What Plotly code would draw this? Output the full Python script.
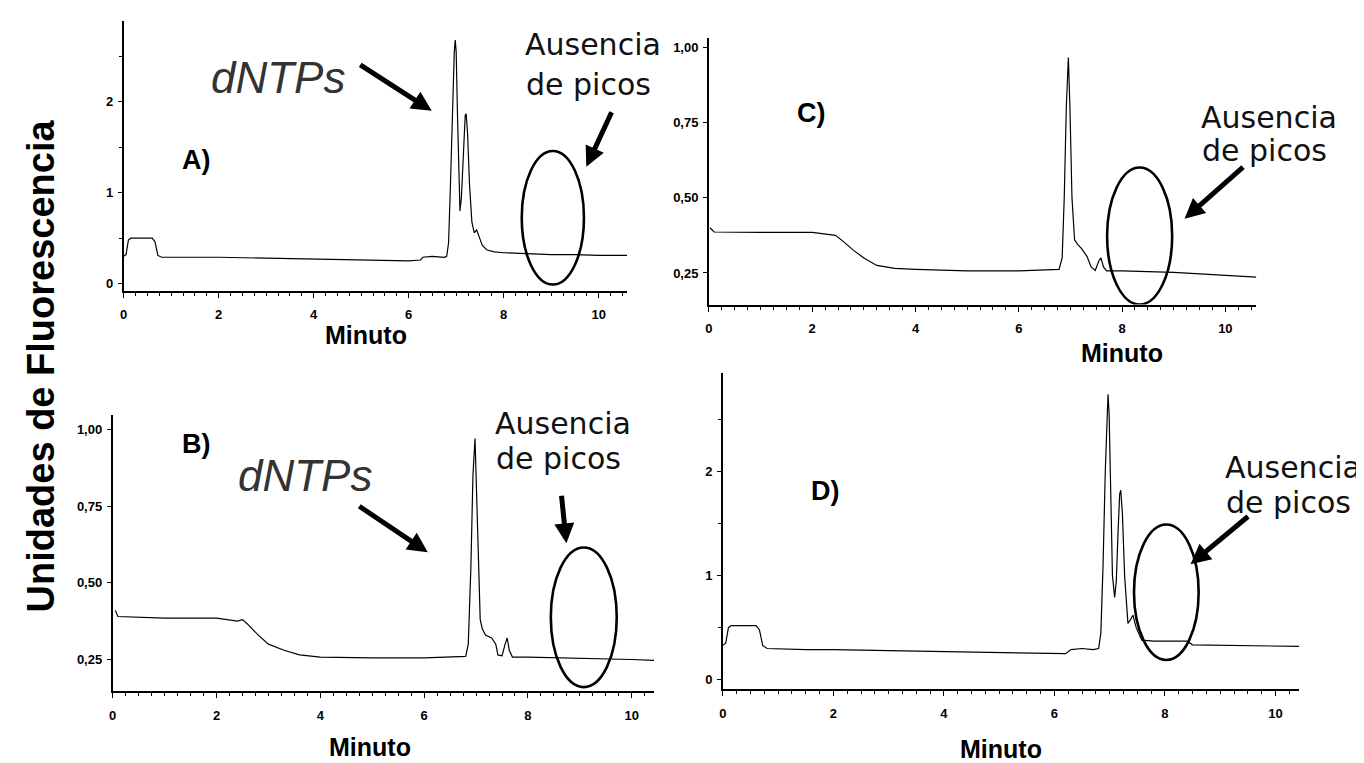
import plotly.graph_objects as go

# ---------------- DATA ----------------
# Panel A
A_x = [0, 0.05, 0.1, 0.15, 0.6, 0.66, 0.72, 0.8, 1.5, 2, 3, 4, 5, 6, 6.25, 6.3, 6.5, 6.75, 6.8,
       6.84, 6.88, 6.92, 6.96, 6.98, 7.0, 7.03, 7.06, 7.08, 7.11, 7.15, 7.19, 7.21, 7.24, 7.28,
       7.33, 7.38, 7.43, 7.48, 7.55, 7.65, 7.8, 8.0, 8.5, 9.0, 9.5, 10.0, 10.6]
A_y = [0.30, 0.32, 0.48, 0.50, 0.50, 0.46, 0.31, 0.29, 0.29, 0.29, 0.28, 0.27, 0.26, 0.25, 0.26, 0.29,
       0.30, 0.29, 0.30, 0.45, 1.1, 1.9, 2.55, 2.68, 2.55, 1.8, 1.0, 0.80, 0.95, 1.5, 1.85, 1.87,
       1.65, 1.1, 0.68, 0.56, 0.59, 0.52, 0.42, 0.37, 0.35, 0.34, 0.33, 0.32, 0.32, 0.31, 0.31]

# Panel B
B_x = [0.05, 0.1, 1, 2, 2.4, 2.5, 2.6, 2.8, 3.0, 3.3, 3.6, 4, 5, 6, 6.8, 6.85, 6.9, 6.94, 6.98,
       7.01, 7.04, 7.08, 7.12, 7.18, 7.3, 7.38, 7.42, 7.5, 7.56, 7.6, 7.64, 7.7, 8, 9, 10, 10.43]
B_y = [0.41, 0.39, 0.385, 0.385, 0.375, 0.38, 0.365, 0.33, 0.30, 0.28, 0.265, 0.258, 0.255, 0.255,
       0.26, 0.30, 0.55, 0.85, 0.97, 0.80, 0.55, 0.38, 0.35, 0.33, 0.32, 0.30, 0.265, 0.262, 0.30,
       0.32, 0.28, 0.258, 0.258, 0.255, 0.25, 0.247]

# Panel C
C_x = [0.02, 0.1, 1, 2, 2.3, 2.45, 2.6, 2.8, 3.0, 3.25, 3.6, 4, 5, 6, 6.78, 6.84, 6.88, 6.92, 6.96,
       6.99, 7.03, 7.08, 7.14, 7.22, 7.32, 7.4, 7.48, 7.55, 7.59, 7.64, 7.7, 8, 9, 10, 10.6]
C_y = [0.40, 0.386, 0.385, 0.385, 0.378, 0.375, 0.355, 0.325, 0.30, 0.275, 0.265, 0.262, 0.257,
       0.257, 0.262, 0.30, 0.50, 0.80, 0.965, 0.80, 0.50, 0.36, 0.345, 0.33, 0.305, 0.27, 0.258,
       0.29, 0.30, 0.27, 0.257, 0.257, 0.252, 0.242, 0.236]

# Panel D
D_x = [0, 0.05, 0.1, 0.15, 0.6, 0.66, 0.72, 0.8, 1.5, 2, 3, 4, 5, 6, 6.2, 6.3, 6.5, 6.7, 6.8,
       6.84, 6.88, 6.92, 6.95, 6.97, 6.99, 7.02, 7.05, 7.09, 7.12, 7.15, 7.18, 7.2, 7.23, 7.27,
       7.33, 7.38, 7.42, 7.48, 7.58, 7.8, 8.4, 8.5, 9.0, 10.0, 10.43]
D_y = [0.33, 0.35, 0.50, 0.52, 0.52, 0.48, 0.33, 0.30, 0.29, 0.29, 0.28, 0.27, 0.26, 0.25, 0.25,
       0.29, 0.30, 0.29, 0.30, 0.45, 1.1, 2.0, 2.55, 2.74, 2.55, 1.8, 1.0, 0.79, 0.95, 1.4, 1.78,
       1.82, 1.6, 1.0, 0.54, 0.58, 0.62, 0.5, 0.38, 0.37, 0.37, 0.335, 0.33, 0.32, 0.32]

# Tick labels
x_tickvals = [0, 2, 4, 6, 8, 10]
x_ticktext = ["0", "2", "4", "6", "8", "10"]
big_tickvals = [0, 1, 2]
big_ticktext = ["0", "1", "2"]
small_tickvals = [0.25, 0.50, 0.75, 1.00]
small_ticktext = ["0,25", "0,50", "0,75", "1,00"]

# "Ausencia de picos" regions (ellipses) [x0, x1, y0, y1]
ellipse_A = [8.38, 9.69, -0.01, 1.46]
ellipse_B = [8.44, 9.71, 0.16, 0.615]
ellipse_C = [7.71, 8.97, 0.145, 0.60]
ellipse_D = [7.44, 8.61, 0.19, 1.49]

# Text
panel_labels = ["A)", "B)", "C)", "D)"]
x_title = "Minuto"
y_title = "Unidades de Fluorescencia"
peak_label = "dNTPs"
absence_line1 = "Ausencia"
absence_line2 = "de picos"

# ---------------- LAYOUT ----------------
W, H = 1364, 763


def px(p):
    return p / W


def py(p):
    return 1 - p / H


fig = go.Figure()

panels = [
    # name, xdata, ydata, xaxis, yaxis, plot px box (l, r, t, b), xrange, yrange, yticks
    ("A", A_x, A_y, "x", "y", (112, 617, 13, 283), [0, 10.6], [-0.077, 2.89], "big"),
    ("B", B_x, B_y, "x2", "y2", (101, 644, 408, 684), [0, 10.43], [0.147, 1.045], "small"),
    ("C", C_x, C_y, "x3", "y3", (699, 1248, 30, 297), [0, 10.6], [0.145, 1.03], "small"),
    ("D", D_x, D_y, "x4", "y4", (713, 1291, 365, 682), [0, 10.43], [-0.09, 2.95], "big"),
]

tickfont = dict(family="Liberation Sans Narrow, Liberation Sans, Arial", size=13,
                color="black", weight="bold")

for i, (name, xd, yd, xa, ya, box, xr, yr, yk) in enumerate(panels):
    fig.add_trace(go.Scatter(x=xd, y=yd, mode="lines", xaxis=xa, yaxis=ya,
                             line=dict(color="black", width=1.2), showlegend=False,
                             hoverinfo="skip"))
    l, r, t, b = box
    n = "" if i == 0 else str(i + 1)
    xaxis = dict(domain=[px(l), px(r)], range=xr, anchor=ya, showline=True, linecolor="black",
                 linewidth=1.8, ticks="outside", ticklen=5, tickwidth=1.4, tickcolor="black",
                 tickvals=x_tickvals, ticktext=x_ticktext, tickfont=tickfont,
                 ticklabelstandoff=6, showgrid=False, zeroline=False,
                 minor=dict(ticks="outside", ticklen=3, dtick=0.25, tickcolor="black",
                            tickwidth=1, showgrid=False))
    if yk == "big":
        tv, tt = big_tickvals, big_ticktext
        minor = dict(ticks="outside", ticklen=3, dtick=0.5, tickcolor="black", showgrid=False)
    else:
        tv, tt = small_tickvals, small_ticktext
        minor = None
    yaxis = dict(domain=[py(b), py(t)], range=yr, anchor=xa, showline=True, linecolor="black",
                 linewidth=1.8, ticks="outside", ticklen=4, tickwidth=1.2, tickcolor="black",
                 tickvals=tv, ticktext=tt, tickfont=tickfont, ticklabelstandoff=2,
                 showgrid=False, zeroline=False)
    if minor:
        yaxis["minor"] = minor
    fig.update_layout(**{"xaxis" + n: xaxis, "yaxis" + n: yaxis})

# ellipses
for (x0, x1, y0, y1), xa, ya in [(ellipse_A, "x", "y"), (ellipse_B, "x2", "y2"),
                                 (ellipse_C, "x3", "y3"), (ellipse_D, "x4", "y4")]:
    fig.add_shape(type="circle", xref=xa, yref=ya, x0=x0, x1=x1, y0=y0, y1=y1,
                  line=dict(color="black", width=2.6))

ann = []
bold = dict(family="Liberation Sans, Arial", color="black", weight="bold")
sans = dict(family="DejaVu Sans", color="#111")
ital = dict(family="Liberation Sans, Arial", size=44, color="#333", style="italic")


def text(t, x, y, font, xanchor="left", angle=0):
    ann.append(dict(text=t, x=px(x), y=py(y), xref="paper", yref="paper", showarrow=False,
                    xanchor=xanchor, yanchor="middle", font=font, textangle=angle))


def arrow(tail, head):
    ann.append(dict(text="", x=px(head[0]), y=py(head[1]), xref="paper", yref="paper",
                    showarrow=True, ax=tail[0] - head[0], ay=tail[1] - head[1],
                    arrowhead=2, arrowsize=0.8, arrowwidth=5, arrowcolor="black", standoff=0))


# panel letters
for lab, (x, y) in zip(panel_labels, [(185, 152), (185, 437), (802, 105), (816, 484)]):
    text(lab, x, y, dict(bold, size=27), xanchor="center")

# axis titles
for (x, y) in [(355, 327), (359, 740), (1113, 345), (992, 742)]:
    text(x_title, x, y, dict(bold, size=25), xanchor="center")
text(y_title, 29, 358, dict(bold, size=38), xanchor="center", angle=-90)

# dNTPs
text(peak_label, 198, 70, ital)
text(peak_label, 225, 468, ital)
arrow((348, 56), (421, 103))
arrow((347, 498), (417, 545))

# Ausencia de picos
for (x, y1, y2) in [(513, 37, 77), (482, 416, 451), (1190, 110, 143), (1215, 460, 495)]:
    text(absence_line1, x, y1, dict(sans, size=30))
    text(absence_line2, x + 1, y2, dict(sans, size=30))
arrow((602, 103), (576, 159))
arrow((551, 487), (556, 536))
arrow((1236, 158), (1176, 211))
arrow((1241, 508), (1182, 557))

fig.update_layout(width=W, height=H, margin=dict(l=0, r=0, t=0, b=0),
                  paper_bgcolor="white", plot_bgcolor="white", annotations=ann,
                  showlegend=False)

fig.write_html("out.html")
